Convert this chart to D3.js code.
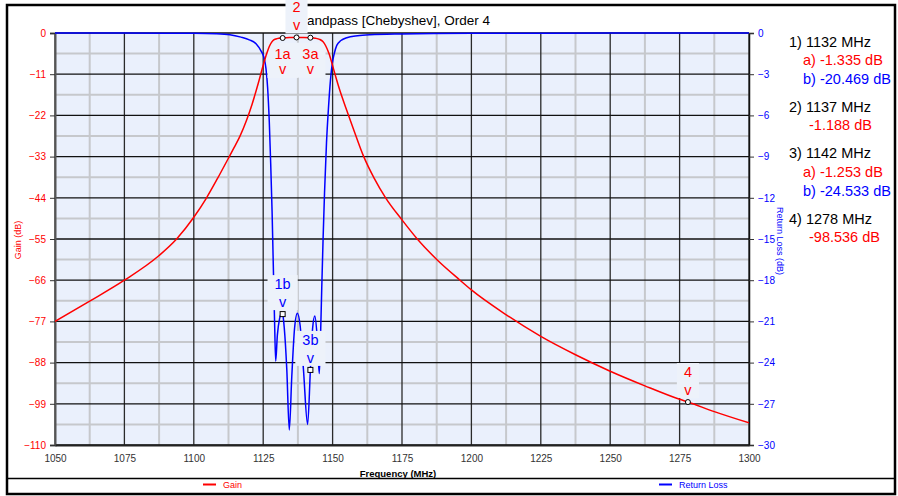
<!DOCTYPE html>
<html><head><meta charset="utf-8">
<script src="https://cdn.jsdelivr.net/npm/d3@7"></script>
<style>
html,body{margin:0;padding:0;background:#fff;}
svg{display:block;font-family:"Liberation Sans",Arial,sans-serif;}
</style></head>
<body><svg id="chart" width="898" height="496"></svg>
<script>
// ---- data ----
const title = "Bandpass [Chebyshev], Order 4";
const freqTicks = [1050,1075,1100,1125,1150,1175,1200,1225,1250,1275,1300];
const gainTicks = [0,-11,-22,-33,-44,-55,-66,-77,-88,-99,-110];
const rlTicks = [0,-3,-6,-9,-12,-15,-18,-21,-24,-27,-30];

const gainFreq = [1050,1062.5,1075,1087.5,1093.8,1100,1104.6,1108.5,1112.5,1114.5,1116.6,1119,1121,1123.2,1125,1126.3,1127.2,1128,1128.8,1130,1132,1134.5,1137,1139.5,1142,1143.8,1145.3,1146.5,1147.5,1148.7,1150,1151.1,1152.6,1154.5,1157.4,1161.1,1165,1169.1,1175,1180.5,1187.7,1195.9,1200,1212.7,1225,1237.5,1250,1262.5,1275,1278,1287.5,1300];
const gainDb = [-77.0,-71.6,-66.0,-59.4,-55.0,-49.2,-44.0,-38.9,-33.4,-30.6,-27.6,-23.3,-19.0,-13.5,-8.6,-5.4,-3.6,-2.5,-1.85,-1.5,-1.335,-1.22,-1.188,-1.2,-1.253,-1.4,-1.7,-2.3,-3.4,-5.5,-8.7,-11.6,-15.3,-19.4,-25.4,-32.8,-38.8,-44.0,-49.9,-55.0,-60.6,-66.0,-68.6,-75.3,-81.0,-85.9,-90.3,-94.2,-97.8,-98.536,-101.1,-104.1];

const rlFreq = [1050,1075,1100,1108,1113,1117,1120,1122.5,1124.2,1125.3,1126,1126.6,1127.2,1127.7,1128.2,1128.7,1129.1,1129.5,1130.1,1130.9,1131.6,1132,1132.6,1133.5,1134.4,1135.3,1136.3,1137.3,1138.3,1139.5,1141,1142,1142.8,1143.6,1144.4,1145.2,1145.6,1146.1,1146.6,1147.1,1147.8,1148.5,1149.2,1149.9,1150.6,1151.5,1153,1155.1,1159,1163.5,1175,1200,1250,1300];
const rlDb = [-0.002,-0.005,-0.02,-0.05,-0.12,-0.3,-0.5,-0.8,-1.3,-1.8,-2.6,-4.0,-6.5,-9.5,-13.0,-17.5,-21.0,-23.9,-22.0,-20.8,-20.4,-20.469,-21.5,-24.5,-28.9,-25.0,-21.5,-20.4,-21.3,-24.5,-28.5,-24.533,-21.5,-20.6,-22.0,-24.8,-22.5,-18.5,-14.8,-11.6,-8.0,-5.5,-3.5,-2.2,-1.5,-0.9,-0.55,-0.34,-0.2,-0.13,-0.07,-0.02,-0.005,-0.002];

const markerIds = ["1a","2","3a","4","1b","3b"];
const markerFreq = [1132,1137,1142,1278,1132,1142];
const markerVal = [-1.335,-1.188,-1.253,-98.536,-20.469,-24.533];
const markerSeries = ["gain","gain","gain","gain","rl","rl"];
const markerPlace = ["below","above","below","above","above","above"];

const readoutText = ["1) 1132 MHz","a) -1.335 dB","b) -20.469 dB","2) 1137 MHz","-1.188 dB","3) 1142 MHz","a) -1.253 dB","b) -24.533 dB","4) 1278 MHz","-98.536 dB"];
const readoutKind = ["head","gain","rl","head","gain","head","gain","rl","head","gain"];

const seriesNames = ["Gain","Return Loss"];

// ---- drawing ----
const RED="#ff0000", BLUE="#0000ff";
const colorOf = {gain:RED, rl:BLUE, head:"#000"};
const svg = d3.select("#chart");
const L=55,R=749,T=33,B=445;
const x = d3.scaleLinear([1050,1300],[L,R]);
const yG = d3.scaleLinear([-110,0],[B,T]);
const yR = d3.scaleLinear([-30,0],[B,T]);

// frame
svg.append("rect").attr("x",7).attr("y",5).attr("width",888).attr("height",489)
  .attr("fill","#fff").attr("stroke","#000").attr("stroke-width",2.5);
svg.append("line").attr("x1",7).attr("x2",895).attr("y1",478.5).attr("y2",478.5)
  .attr("stroke","#000").attr("stroke-width",1.3);

// plot background
svg.append("rect").attr("x",L).attr("y",T).attr("width",R-L).attr("height",B-T).attr("fill","#eaf0fc");

// grid
const g = svg.append("g");
const minorY = d3.range(0,gainTicks.length-1).map(i=>(gainTicks[i]+gainTicks[i+1])/2);
const minorX = d3.range(0,freqTicks.length-1).map(i=>(freqTicks[i]+freqTicks[i+1])/2);
g.selectAll(".mx").data(minorX).join("line").attr("x1",d=>x(d)).attr("x2",d=>x(d)).attr("y1",T).attr("y2",B)
  .attr("stroke","#c6c8cc").attr("stroke-width",2);
g.selectAll(".my").data(minorY).join("line").attr("x1",L).attr("x2",R).attr("y1",d=>yG(d)).attr("y2",d=>yG(d))
  .attr("stroke","#c6c8cc").attr("stroke-width",2);
g.selectAll(".Mx").data(freqTicks).join("line").attr("x1",d=>x(d)).attr("x2",d=>x(d)).attr("y1",T).attr("y2",B)
  .attr("stroke","#2a2a2a").attr("stroke-width",1.3);
g.selectAll(".My").data(gainTicks).join("line").attr("x1",L).attr("x2",R).attr("y1",d=>yG(d)).attr("y2",d=>yG(d))
  .attr("stroke","#111").attr("stroke-width",1.3);

// axes
const axL = svg.append("g").attr("transform",`translate(${L},0)`)
  .call(d3.axisLeft(yG).tickValues(gainTicks).tickSize(5).tickPadding(4).tickFormat(d3.format("d")));
axL.selectAll("text").attr("fill",RED).style("font-size","10px");
axL.selectAll("line").attr("stroke","#333");
axL.select(".domain").attr("stroke","#555").attr("stroke-width",2);

const axR = svg.append("g").attr("transform",`translate(${R},0)`)
  .call(d3.axisRight(yR).tickValues(rlTicks).tickSize(5).tickPadding(4).tickFormat(d3.format("d")));
axR.selectAll("text").attr("fill",BLUE).style("font-size","10px");
axR.selectAll("line").attr("stroke","#333");
axR.select(".domain").attr("stroke","#111").attr("stroke-width",1.5);

const axB = svg.append("g").attr("transform",`translate(0,${B})`)
  .call(d3.axisBottom(x).tickValues(freqTicks).tickSize(0).tickPadding(9.5).tickFormat(d3.format("d")));
axB.selectAll("text").attr("fill","#333").style("font-size","10px");
axB.select(".domain").attr("stroke","#222").attr("stroke-width",2);
[axL,axR,axB].forEach(a=>a.attr("font-family",null));

// axis titles
svg.append("text").attr("transform","translate(21,240) rotate(-90)").attr("text-anchor","middle")
  .attr("fill",RED).style("font-size","9px").text("Gain (dB)");
svg.append("text").attr("transform","translate(777,241) rotate(90)").attr("text-anchor","middle")
  .attr("fill",BLUE).style("font-size","9px").text("Return Loss (dB)");
svg.append("text").attr("x",398).attr("y",476.5).attr("text-anchor","middle")
  .style("font-size","9.5px").style("font-weight","bold").attr("fill","#000").text("Frequency (MHz)");

// title
svg.append("text").attr("x",394).attr("y",25).attr("text-anchor","middle")
  .style("font-size","13.5px").attr("fill","#000").text(title);

// return loss curve
const gainPts = gainFreq.map((f,i)=>[f,gainDb[i]]);
const rlPts = rlFreq.map((f,i)=>[f,rlDb[i]]);
svg.append("clipPath").attr("id","pc").append("rect").attr("x",L).attr("y",T-2).attr("width",R-L).attr("height",B-T+4);
svg.append("path").datum(rlPts).attr("clip-path","url(#pc)")
  .attr("d",d3.line().x(d=>x(d[0])).y(d=>yR(d[1])).curve(d3.curveMonotoneX))
  .attr("fill","none").attr("stroke",BLUE).attr("stroke-width",1.5);

// marker labels
const markers = markerIds.map((id,i)=>({id,f:markerFreq[i],v:markerVal[i],s:markerSeries[i],p:markerPlace[i]}));
markers.forEach(m=>{m.px=x(m.f); m.py=(m.s==="gain"?yG:yR)(m.v);});
const lab = svg.append("g").style("font-size","14.5px");
markers.forEach(m=>{
  const top = m.p==="above" ? m.py-39 : m.py+5;
  const w = m.id.length*8.1+14;
  lab.append("rect").attr("x",m.px-w/2).attr("y",top).attr("width",w).attr("height",35).attr("fill","#edf2fa");
});
markers.forEach(m=>{
  lab.append("text").attr("x",m.px).attr("text-anchor","middle").attr("fill",colorOf[m.s])
    .attr("y", m.p==="above" ? m.py-25 : m.py+21).text(m.id);
  lab.append("text").attr("x",m.px).attr("text-anchor","middle").attr("fill",colorOf[m.s])
    .attr("y", m.p==="above" ? m.py-7 : m.py+36).text("v");
});

// gain curve
svg.append("path").datum(gainPts).attr("clip-path","url(#pc)")
  .attr("d",d3.line().x(d=>x(d[0])).y(d=>yG(d[1])).curve(d3.curveMonotoneX))
  .attr("fill","none").attr("stroke",RED).attr("stroke-width",1.5);

// marker symbols
markers.forEach(m=>{
  if(m.s==="gain"){
    svg.append("circle").attr("cx",m.px).attr("cy",m.py).attr("r",2.5).attr("fill","#fff").attr("stroke","#000").attr("stroke-width",1);
  } else {
    svg.append("rect").attr("x",m.px-2.5).attr("y",m.py-2.5).attr("width",5).attr("height",5).attr("fill","#fff").attr("stroke","#000").attr("stroke-width",1);
  }
});

// readout panel
const rY = [47,65,84,112,130,158,177,196,224,242];
const rX = {head:789, sub:803, single:809};
readoutText.forEach((s,i)=>{
  const k = readoutKind[i];
  const xx = k==="head" ? rX.head : (/^[ab]\)/.test(s) ? rX.sub : rX.single);
  svg.append("text").attr("x",xx).attr("y",rY[i]).style("font-size","14.5px").attr("fill",colorOf[k]).text(s);
});

// legend
const legX = [203,659];
const legC = [RED,BLUE];
seriesNames.forEach((n,i)=>{
  svg.append("line").attr("x1",legX[i]).attr("x2",legX[i]+13).attr("y1",484.5).attr("y2",484.5).attr("stroke",legC[i]).attr("stroke-width",2);
  svg.append("text").attr("x",legX[i]+20).attr("y",487.5).style("font-size","9px").attr("fill",legC[i]).text(n);
});
</script></body></html>
